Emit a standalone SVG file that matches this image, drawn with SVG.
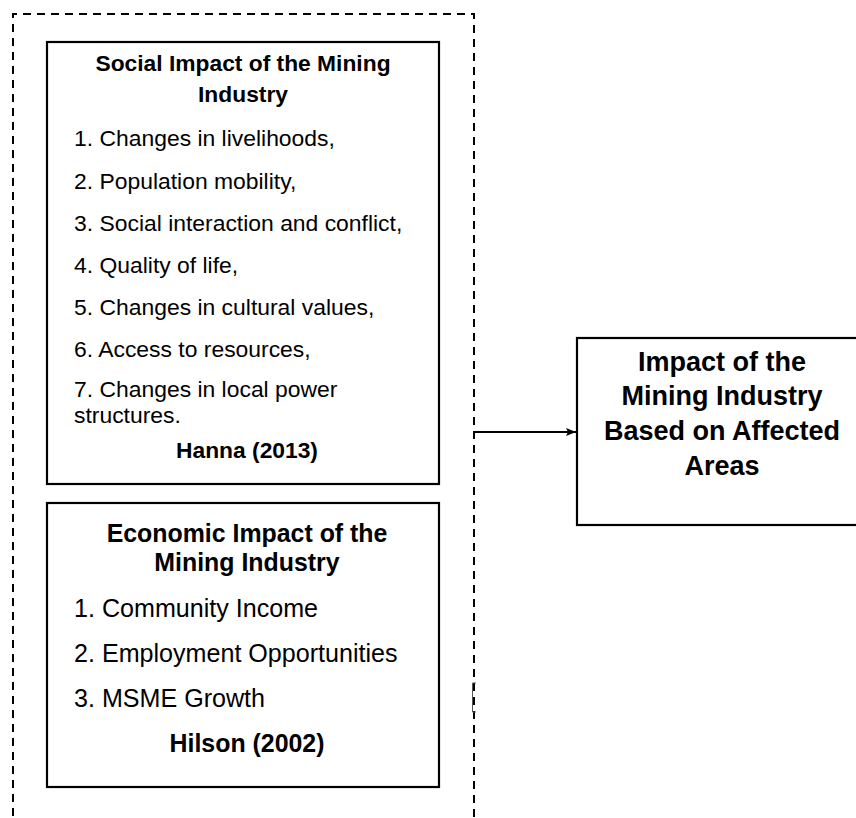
<svg xmlns="http://www.w3.org/2000/svg" width="856" height="818" viewBox="0 0 856 818">
<defs>
<style>
.box{fill:#fff;stroke:#000;stroke-width:2.2}
.t{font-family:"Liberation Sans",Arial,sans-serif;fill:#000}
.b{font-weight:bold}
.s{font-size:22.9px}
.e{font-size:25.1px}
.st{font-size:22.8px}
.et{font-size:24.9px}
.rt{font-size:27px}
</style>
<marker id="arr" viewBox="0 0 10 10" refX="10" refY="5" markerWidth="10" markerHeight="10" markerUnits="userSpaceOnUse" orient="auto">
<path d="M0,1 L10,5 L0,9 L2,5 Z" fill="#000"/>
</marker>
</defs>
<rect width="856" height="818" fill="#fff"/>
<g id="group-frame">
<path d="M13,830 V14 H474 V830" fill="none" stroke="#000" stroke-width="2" stroke-dasharray="8 6"/>
</g>
<g id="node-social">
<rect class="box" x="47" y="42" width="392" height="442"/>
<text class="t b st" x="243" y="71" text-anchor="middle">Social Impact of the Mining</text>
<text class="t b st" x="243" y="102" text-anchor="middle">Industry</text>
<text class="t s" x="74" y="146">1. Changes in livelihoods,</text>
<text class="t s" x="74" y="188.5">2. Population mobility,</text>
<text class="t s" x="74" y="231">3. Social interaction and conflict,</text>
<text class="t s" x="74" y="273">4. Quality of life,</text>
<text class="t s" x="74" y="315">5. Changes in cultural values,</text>
<text class="t s" x="74" y="357">6. Access to resources,</text>
<text class="t s" x="74" y="397">7. Changes in local power</text>
<text class="t s" x="74" y="423">structures.</text>
<text class="t b st" x="247" y="458" text-anchor="middle">Hanna (2013)</text>
</g>
<g id="node-economic">
<rect class="box" x="47" y="503" width="392" height="284"/>
<text class="t b et" x="247" y="542" text-anchor="middle">Economic Impact of the</text>
<text class="t b et" x="247" y="571" text-anchor="middle">Mining Industry</text>
<text class="t e" x="74" y="617">1. Community Income</text>
<text class="t e" x="74" y="662">2. Employment Opportunities</text>
<text class="t e" x="74" y="707">3. MSME Growth</text>
<text class="t b et" x="247" y="752" text-anchor="middle">Hilson (2002)</text>
</g>
<g id="node-impact">
<rect class="box" x="577" y="338" width="292" height="187"/>
<text class="t b rt" x="722" y="371" text-anchor="middle">Impact of the</text>
<text class="t b rt" x="722" y="405" text-anchor="middle">Mining Industry</text>
<text class="t b rt" x="722" y="440" text-anchor="middle">Based on Affected</text>
<text class="t b rt" x="722" y="475" text-anchor="middle">Areas</text>
</g>
<g id="connectors">
<line x1="474" y1="432" x2="576" y2="432" stroke="#000" stroke-width="2" marker-end="url(#arr)"/>
<path d="M476,683 H472.5 V712 H476" fill="none" stroke="#555" stroke-width="1"/>
</g>
</svg>
